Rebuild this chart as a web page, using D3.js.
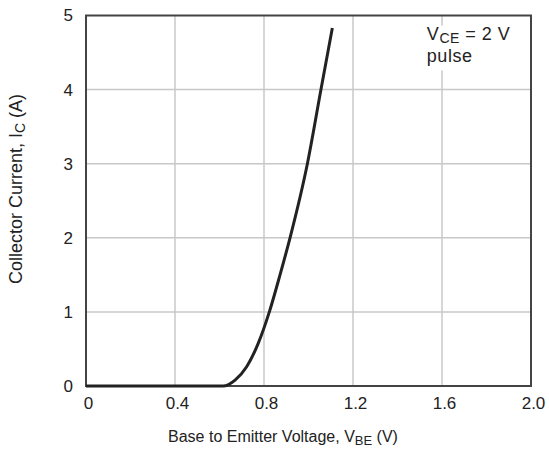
<!DOCTYPE html>
<html>
<head>
<meta charset="utf-8">
<script src="https://cdn.jsdelivr.net/npm/d3@7"></script>
<style>
  body { margin: 0; background: #fff; }
  text { font-family: "Liberation Sans", Arial, sans-serif; fill: #222; }
</style>
</head>
<body>
<div id="chart"></div>
<script>
// Ic vs Vbe curve
var vbe = [0, 0.2, 0.4, 0.6, 0.616, 0.67, 0.722, 0.774, 0.824, 0.872, 0.917, 0.995, 1.056, 1.107]
var ic  = [0, 0, 0, 0, 0, 0.08, 0.26, 0.575, 1.0, 1.5, 2.0, 3.0, 4.0, 4.83]

var xTicks = [0, 0.4, 0.8, 1.2, 1.6, 2.0]
var xTickLabels = ['0', '0.4', '0.8', '1.2', '1.6', '2.0']
var yTicks = [0, 1, 2, 3, 4, 5]

var data = vbe.map(function(v, i){ return {v: v, i: ic[i]} })

var width = 549, height = 450
var margin = {left: 86, right: 18, top: 15.5, bottom: 64}

var svg = d3.select('#chart').append('svg')
  .attr('width', width).attr('height', height)

var g = svg.append('g').attr('transform', 'translate(' + margin.left + ',' + margin.top + ')')
var w = width - margin.left - margin.right
var h = height - margin.top - margin.bottom

var x = d3.scaleLinear().domain([0, 2]).range([0, w])
var y = d3.scaleLinear().domain([0, 5]).range([h, 0])

// grid
g.append('g')
  .selectAll('line.vg').data(xTicks.slice(1, -1)).enter().append('line')
  .attr('x1', x).attr('x2', x).attr('y1', 0).attr('y2', h)
  .attr('stroke', '#c8c8c8').attr('stroke-width', 1.5)

g.append('g')
  .selectAll('line.hg').data(yTicks.slice(1, -1)).enter().append('line')
  .attr('y1', y).attr('y2', y).attr('x1', 0).attr('x2', w)
  .attr('stroke', '#c8c8c8').attr('stroke-width', 1.5)

// note box covering grid
g.append('rect')
  .attr('x', x(1.494)).attr('y', 10).attr('width', 104).attr('height', 45)
  .attr('fill', '#fff')

g.append('text').attr('x', x(1.532)).attr('y', 24).attr('font-size', 18)
  .attr('letter-spacing', 0.5)
  .html('V<tspan font-size="14" dy="3">CE</tspan><tspan dy="-3"> = 2 V</tspan>')
g.append('text').attr('x', x(1.532)).attr('y', 46).attr('font-size', 18)
  .attr('letter-spacing', 0.5).text('pulse')

// frame
g.append('rect').attr('width', w).attr('height', h)
  .attr('fill', 'none').attr('stroke', '#444').attr('stroke-width', 2)

// curve
var line = d3.line().x(function(d){ return x(d.v) }).y(function(d){ return y(d.i) })
  .curve(d3.curveMonotoneX)
g.append('path').datum(data).attr('d', line)
  .attr('fill', 'none').attr('stroke', '#222').attr('stroke-width', 3)

// axes
var xAxis = d3.axisBottom(x).tickValues(xTicks).tickSize(0).tickPadding(11)
  .tickFormat(function(d, i){ return xTickLabels[i] })
var yAxis = d3.axisLeft(y).tickValues(yTicks).tickSize(0).tickPadding(13)
  .tickFormat(d3.format('d'))

var xa = g.append('g').attr('transform', 'translate(0,' + h + ')').call(xAxis)
var ya = g.append('g').call(yAxis)
;[xa, ya].forEach(function(a){
  a.select('.domain').remove()
  a.selectAll('text').attr('font-size', 17).attr('fill', '#222')
    .attr('font-family', '"Liberation Sans", Arial, sans-serif')
})
xa.selectAll('text').attr('dx', 2)

// titles
svg.append('text').attr('x', 283).attr('y', 442)
  .attr('text-anchor', 'middle').attr('font-size', 16)
  .html('Base to Emitter Voltage, V<tspan font-size="13" dy="3">BE</tspan><tspan dy="-3"> (V)</tspan>')

svg.append('text').attr('transform', 'translate(22,189) rotate(-90)')
  .attr('text-anchor', 'middle').attr('font-size', 18)
  .html('Collector Current, I<tspan font-size="14" dy="3">C</tspan><tspan dy="-3"> (A)</tspan>')
</script>
</body>
</html>
